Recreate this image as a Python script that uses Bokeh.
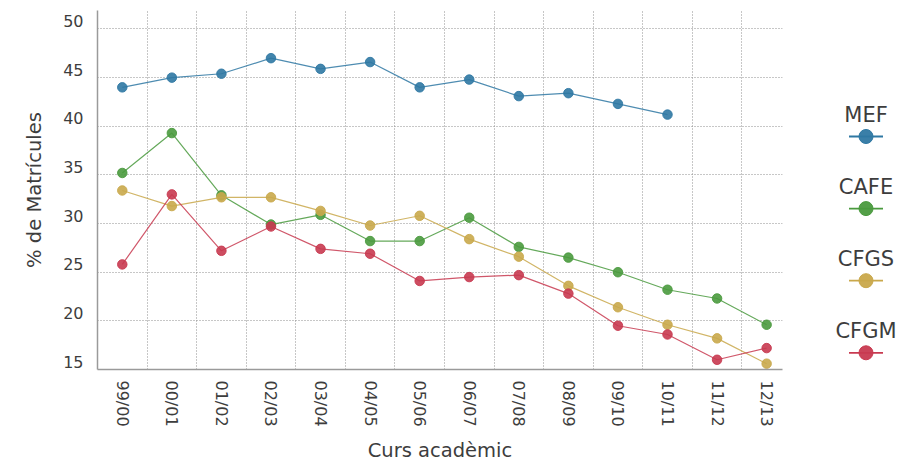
from bokeh.plotting import figure
from bokeh.models import Range1d, FixedTicker
from bokeh.layouts import row
from bokeh.embed import file_html
from bokeh.resources import INLINE
from bokeh.core.properties import value

nan = float("nan")

courses = ["99/00", "00/01", "01/02", "02/03", "03/04", "04/05", "05/06",
           "06/07", "07/08", "08/09", "09/10", "10/11", "11/12", "12/13"]
mef = [44.0, 45.0, 45.4, 47.0, 45.9, 46.6, 44.0, 44.8, 43.1, 43.4, 42.3, 41.2, nan, nan]
cafe = [35.2, 39.3, 32.9, 29.9, 30.9, 28.2, 28.2, 30.6, 27.6, 26.5, 25.0, 23.2, 22.3, 19.6]
cfgs = [33.4, 31.8, 32.7, 32.7, 31.3, 29.8, 30.8, 28.4, 26.6, 23.6, 21.4, 19.6, 18.2, 15.6]
cfgm = [25.8, 33.0, 27.2, 29.7, 27.4, 26.9, 24.1, 24.5, 24.7, 22.8, 19.5, 18.6, 16.0, 17.2]
y_ticks = [15, 20, 25, 30, 35, 40, 45, 50]

names = ["MEF", "CAFE", "CFGS", "CFGM"]
series = [mef, cafe, cfgs, cfgm]
colors = ["#2f78a3", "#4a9a3e", "#c9a84b", "#c83a50"]

FONT = "DejaVu Sans"
TXT = "#3d3d3d"

xs = list(range(len(courses)))

# frame geometry (page pixels)
F_LEFT, F_TOP, F_RIGHT, F_BOTTOM = 97, 10, 782, 369
W, H = 899, 464
MAIN_W = F_RIGHT + 6

p = figure(width=MAIN_W, height=H, x_range=Range1d(-0.5, 13.32), y_range=Range1d(15, 51.9),
           output_backend="svg", toolbar_location=None,
           min_border_left=F_LEFT, min_border_right=MAIN_W - F_RIGHT,
           min_border_top=F_TOP, min_border_bottom=H - F_BOTTOM)
p.outline_line_color = None

for vals, col in zip(series, colors):
    p.line(xs, vals, line_color=col, line_width=1.2, line_alpha=0.85)
    p.scatter(xs, vals, size=9.5, fill_color=col, line_color=col, fill_alpha=0.9, line_alpha=0.9)

p.xaxis.ticker = FixedTicker(ticks=xs)
p.xaxis.major_label_overrides = {i: c for i, c in enumerate(courses)}
p.xaxis.major_label_orientation = "vertical"
p.xgrid.ticker = FixedTicker(ticks=[i + 0.5 for i in range(len(courses) - 1)])

# y labels sit slightly above their gridlines in the reference
shift = 0.8
label_ticks = [round(t + shift, 2) for t in y_ticks]
p.yaxis.ticker = FixedTicker(ticks=label_ticks)
p.yaxis.major_label_overrides = {lt: str(t) for lt, t in zip(label_ticks, y_ticks)}
p.ygrid.ticker = FixedTicker(ticks=y_ticks)

for ax in (p.xaxis, p.yaxis):
    ax.axis_line_color = "#9a9a9a"
    ax.axis_line_width = 1.5
    ax.major_tick_line_color = None
    ax.minor_tick_line_color = None
    ax.major_tick_out = 0
    ax.major_tick_in = 0
    ax.major_label_text_font = FONT
    ax.major_label_text_font_size = "16px"
    ax.major_label_text_color = TXT
    ax.axis_label_text_font = FONT
    ax.axis_label_text_font_size = "19.5px"
    ax.axis_label_text_font_style = "normal"
    ax.axis_label_text_color = TXT

p.xaxis.axis_label = "Curs acadèmic"
p.yaxis.axis_label = "% de Matrícules"
p.xaxis.major_label_standoff = 11
p.yaxis.major_label_standoff = 14
p.xaxis.axis_label_standoff = 9
p.yaxis.axis_label_standoff = 14

for g in (p.xgrid, p.ygrid):
    g.grid_line_color = "#8f8f8f"
    g.grid_line_dash = "1 2"
    g.grid_line_width = 1

# legend panel (its frame is aligned with the main frame by the row layout)
lw = W - MAIN_W
lg = figure(width=lw, height=H, x_range=Range1d(MAIN_W, W), y_range=Range1d(F_BOTTOM, F_TOP),
            x_axis_type=None, y_axis_type=None, output_backend="svg",
            toolbar_location=None, min_border_left=0, min_border_right=0,
            min_border_top=F_TOP, min_border_bottom=H - F_BOTTOM)
lg.outline_line_color = None
lg.grid.visible = False
cx = 865.5
marker_y = [136 + 72.1 * i for i in range(len(names))]
text_y = [m - 21.5 for m in marker_y]
lg.text(x=[cx] * len(names), y=text_y, text=names, text_align="center",
        text_baseline="middle", text_font=value(FONT), text_font_size="21px",
        text_color=TXT)
lg.segment(x0=[cx - 17] * len(names), x1=[cx + 17] * len(names), y0=marker_y, y1=marker_y,
           line_color=colors, line_width=1.8)
lg.scatter(x=[cx] * len(names), y=marker_y, size=14, fill_color=colors, line_color=colors,
           fill_alpha=0.95)

layout = row(p, lg)
open("out.html", "w").write(file_html(layout, INLINE))
